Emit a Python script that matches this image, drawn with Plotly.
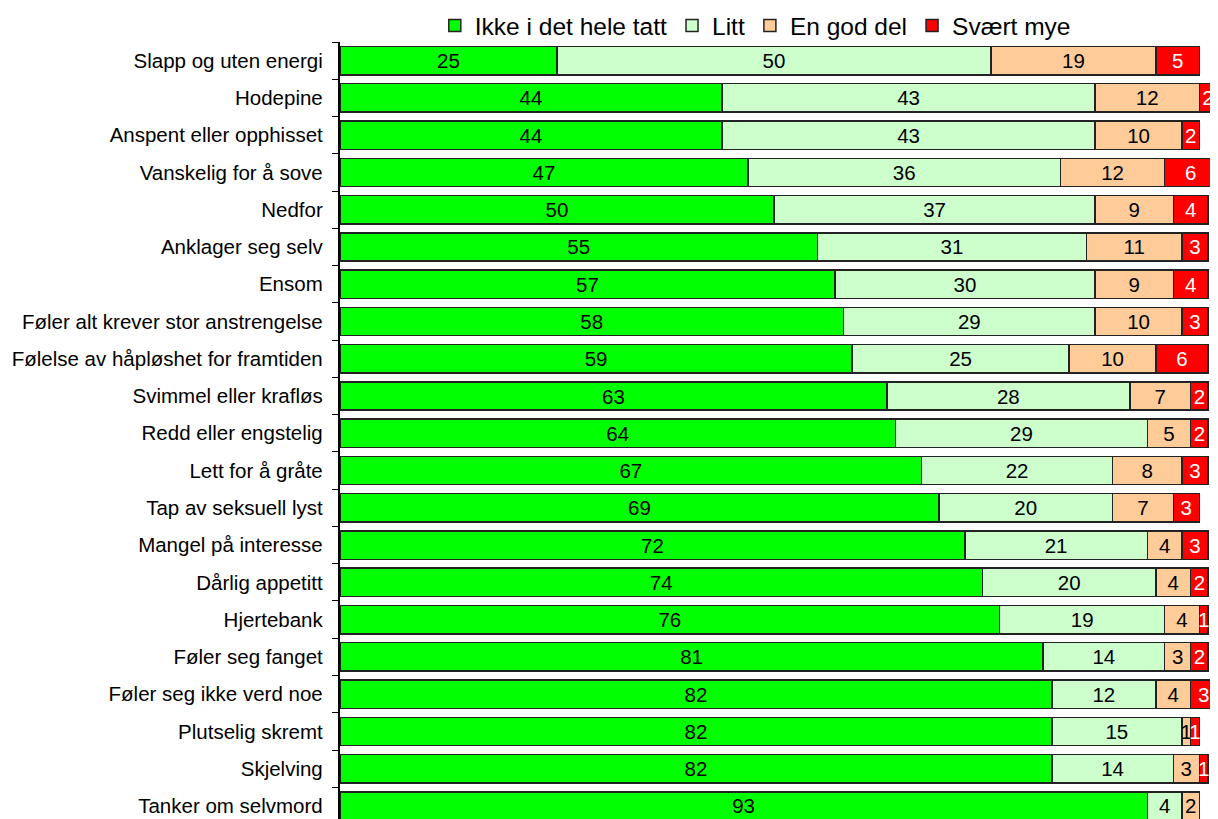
import plotly.graph_objects as go

kategorier = [
    "Slapp og uten energi", "Hodepine", "Anspent eller opphisset",
    "Vanskelig for å sove", "Nedfor", "Anklager seg selv", "Ensom",
    "Føler alt krever stor anstrengelse", "Følelse av håpløshet for framtiden",
    "Svimmel eller krafløs", "Redd eller engstelig", "Lett for å gråte",
    "Tap av seksuell lyst", "Mangel på interesse", "Dårlig appetitt",
    "Hjertebank", "Føler seg fanget", "Føler seg ikke verd noe",
    "Plutselig skremt", "Skjelving", "Tanker om selvmord",
]
ikke_i_det_hele = [25, 44, 44, 47, 50, 55, 57, 58, 59, 63, 64, 67, 69, 72, 74, 76, 81, 82, 82, 82, 93]
litt = [50, 43, 43, 36, 37, 31, 30, 29, 25, 28, 29, 22, 20, 21, 20, 19, 14, 12, 15, 14, 4]
god_del = [19, 12, 10, 12, 9, 11, 9, 10, 10, 7, 5, 8, 7, 4, 4, 4, 3, 4, 1, 3, 2]
svaert_mye = [5, 2, 2, 6, 4, 3, 4, 3, 6, 2, 2, 3, 3, 3, 2, 1, 2, 3, 1, 1, 0]

serier = [
    ("Ikke i det hele tatt", ikke_i_det_hele, "#00FF00", "black"),
    ("Litt", litt, "#CCFFCC", "black"),
    ("En god del", god_del, "#FFCC99", "black"),
    ("Svært mye", svaert_mye, "#FF0000", "white"),
]

fig = go.Figure()
for navn, verdier, farge, tekstfarge in serier:
    fig.add_trace(go.Bar(
        y=kategorier, x=verdier, name=navn, orientation="h",
        marker=dict(color=farge, line=dict(color="#222222", width=1.5)),
        text=[str(v) for v in verdier], textposition="inside", textangle=0,
        insidetextanchor="middle", constraintext="none",
        textfont=dict(family="Liberation Sans, Arial", size=20.5, color=tekstfarge),
        width=0.76,
    ))

# the page body adds an 8px margin, so the figure is a bit smaller and shifted
fig.update_layout(
    barmode="stack",
    width=1210, height=811,
    margin=dict(l=332, r=0, t=34, b=0, autoexpand=False),
    paper_bgcolor="white", plot_bgcolor="white",
    font=dict(family="Liberation Sans, Arial", size=20.5, color="black"),
    legend=dict(orientation="h", x=0.473, xanchor="center", y=1.021, yanchor="middle",
                font=dict(size=24.5), traceorder="normal", itemwidth=30,
                tracegroupgap=0, itemclick=False, bgcolor="rgba(0,0,0,0)"),
    showlegend=True,
)
fig.update_xaxes(range=[0, 101.15], visible=False)
fig.update_yaxes(
    type="category", autorange=False, range=[20.35, -0.5],
    showline=True, linecolor="black", linewidth=1.5,
    ticks="outside", ticklen=6, tickcolor="black", tickson="boundaries",
    showgrid=False, ticksuffix="  ",
)

fig.write_html("out.html")
